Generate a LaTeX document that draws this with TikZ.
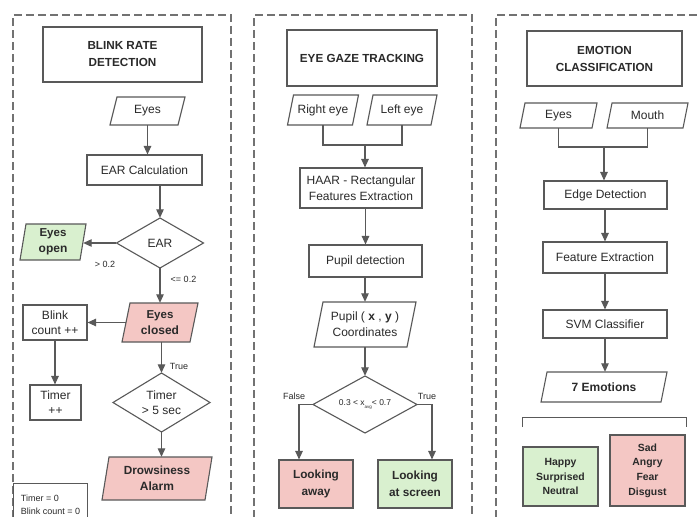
\documentclass[tikz,border=0pt]{standalone}
\usepackage{fontspec}
\setmainfont{Liberation Sans}
\usetikzlibrary{arrows.meta,calc}
\definecolor{linec}{HTML}{595959}
\definecolor{txtc}{HTML}{2A2A2A}
\definecolor{okgreen}{HTML}{D9F0CF}
\definecolor{badpink}{HTML}{F4C7C4}
\tikzset{
 shapeline/.style={draw=linec, line width=1.1pt},
 plain/.style={inner sep=0pt, align=center, text=txtc, font=\fontsize{12}{16}\selectfont},
 box/.style={plain, shapeline, fill=white},
 conn/.style={draw=linec, line width=1.1pt},
 arr/.style={conn, -{Triangle[length=8.5pt,width=7.5pt]}},
 panel/.style={draw=linec!85, line width=1.1pt, dash pattern=on 8pt off 4pt},
 lab/.style={text=txtc, font=\fontsize{9}{11}\selectfont, inner sep=0pt},
 ttl/.style={box, font=\bfseries\fontsize{11.7}{17}\selectfont},
 boldtxt/.style={font=\bfseries\fontsize{11.8}{16.5}\selectfont},
 smallbold/.style={font=\bfseries\fontsize{10.4}{14.6}\selectfont}
}
% parallelogram: name, cx, cy, w, h, slant, fill, text
\newcommand\parabox[8]{%
 \filldraw[shapeline, fill=#7] ({#2-#4/2+#6},{#3-#5/2}) -- ({#2+#4/2+#6},{#3-#5/2})
   -- ({#2+#4/2-#6},{#3+#5/2}) -- ({#2-#4/2-#6},{#3+#5/2}) -- cycle;
 \node[plain, minimum width=#4pt, minimum height=#5pt] (#1) at (#2,#3) {#8};}
% diamond: name, cx, cy, w, h, text
\newcommand\diabox[6]{%
 \filldraw[shapeline, fill=white] ({#2},{#3-#5/2}) -- ({#2+#4/2},{#3})
   -- ({#2},{#3+#5/2}) -- ({#2-#4/2},{#3}) -- cycle;
 \node[plain, minimum width=#4pt, minimum height=#5pt] (#1) at (#2,#3) {#6};}
\begin{document}
\begin{tikzpicture}[x=1pt,y=-1pt]
\useasboundingbox (0,0) rectangle (700,516);
\clip (0,0) rectangle (700,516);
\fill[white] (0,0) rectangle (700,516);
% panels
\draw[panel] (13,530) -- (13,15) -- (231,15) -- (231,530);
\draw[panel] (254,530) -- (254,15) -- (472,15) -- (472,530);
\draw[panel] (496,530) -- (496,15) -- (710,15);

% ---------- left: blink rate ----------
\node[ttl, minimum width=159pt, minimum height=55pt] (t1) at (122.5,54.5) {BLINK RATE\\DETECTION};
\parabox{eyes1}{147.5}{111}{68}{28}{3.5}{white}{Eyes}
\node[box, minimum width=115pt, minimum height=30pt] (ear) at (144.5,170) {EAR Calculation};
\diabox{eard}{160}{243}{87}{50}{EAR}
\parabox{open}{53}{242}{60}{36}{3}{okgreen}{\bfseries\fontsize{11.5}{14}\selectfont Eyes\\\bfseries open}
\parabox{closed}{160}{322.5}{68}{39}{4}{badpink}{\bfseries\fontsize{11.5}{15}\selectfont Eyes\\\bfseries closed}
\node[box, minimum width=64pt, minimum height=35pt] (blink) at (55,322.5) {Blink\\[-1.5pt]count ++};
\node[box, minimum width=51pt, minimum height=35pt] (tpp) at (55.5,402.5) {Timer\\[-1.5pt]++};
\diabox{timerd}{161.5}{402.5}{97}{59}{Timer\\[-1.5pt]> 5 sec}
\parabox{alarm}{157}{478.5}{103}{43}{3.5}{badpink}{\bfseries\fontsize{11.8}{16.5}\selectfont Drowsiness\\\bfseries Alarm}
\node[box, anchor=north west, minimum width=74pt, minimum height=42pt, align=left,
  font=\fontsize{9}{12.5}\selectfont] (init) at (13,483) {Timer = 0\\Blink count = 0};

\draw[arr] (eyes1.south) -- (eyes1.south |- ear.north);
\draw[arr] (eard.north |- ear.south) -- (eard.north);
\draw[arr] (eard.west) -- (eard.west -| open.east);
\draw[arr] (eard.south) -- (eard.south |- closed.north);
\draw[arr] (closed.west) -- (closed.west -| blink.east);
\draw[arr] (blink.south) -- (blink.south |- tpp.north);
\draw[arr] (closed.south -| timerd.north) -- (timerd.north);
\draw[arr] (timerd.south) -- (timerd.south |- alarm.north);
\node[lab] (lgt) at (105,264) {> 0.2};
\node[lab] (lle) at (183.5,279.5) {<= 0.2};
\node[lab] (ltrue1) at (179,366) {True};

% ---------- middle: eye gaze ----------
\node[ttl, minimum width=150pt, minimum height=56pt] (t2) at (362,58) {EYE GAZE TRACKING};
\parabox{reye}{323}{110}{65}{30}{3}{white}{Right eye}
\parabox{leye}{402}{110}{64}{30}{3}{white}{Left eye}
\coordinate (j2) at (365,145);
\node[box, minimum width=122pt, minimum height=40pt] (haar) at (361,188) {HAAR - Rectangular\\Features Extraction};
\node[box, minimum width=113pt, minimum height=32pt] (pupil) at (365.5,261) {Pupil detection};
\parabox{pxy}{365}{324.5}{93}{45}{4.5}{white}{Pupil ( \textbf{x} , \textbf{y} )\\Coordinates}
\diabox{gd}{365}{404.5}{104}{57}{\fontsize{8.5}{10}\selectfont 0.3 < x\raisebox{-3pt}{\fontsize{4.5}{5}\selectfont avg}< 0.7}
\node[box, boldtxt, fill=badpink, minimum width=74pt, minimum height=48pt] (away) at (316,484) {Looking\\away};
\node[box, boldtxt, fill=okgreen, minimum width=74pt, minimum height=48pt] (screen) at (415,484) {Looking\\at screen};
\coordinate (fa) at (299,404.5);
\coordinate (ta) at (432,404.5);

\draw[conn] (reye.south) |- (j2) -| (leye.south);
\draw[arr] (j2) -- (j2 |- haar.north);
\draw[arr] (pupil.north |- haar.south) -- (pupil.north);
\draw[arr] (pxy.north |- pupil.south) -- (pxy.north);
\draw[arr] (pxy.south) -- (gd.north);
\draw[arr] (gd.west) -- (fa) -- (fa |- away.north);
\draw[arr] (gd.east) -- (ta) -- (ta |- screen.north);
\node[lab] (lfalse) at (294,396) {False};
\node[lab] (ltrue2) at (427,396) {True};

% ---------- right: emotion ----------
\node[ttl, minimum width=155pt, minimum height=55pt] (t3) at (604.5,58.5) {EMOTION\\CLASSIFICATION};
\parabox{eyes3}{558.5}{115.5}{72}{25}{2.5}{white}{Eyes}
\parabox{mouth}{647.5}{115.5}{76}{25}{2.5}{white}{Mouth}
\coordinate (j3) at (604,147);
\node[box, minimum width=123pt, minimum height=28pt] (edge) at (605.5,195) {Edge Detection};
\node[box, minimum width=124pt, minimum height=31pt] (feat) at (605,257.5) {Feature Extraction};
\node[box, minimum width=124pt, minimum height=28pt] (svm) at (605,324) {SVM Classifier};
\parabox{emo}{604}{387}{120}{30}{3}{white}{\bfseries 7 Emotions}
\coordinate (b1) at (522,427);
\coordinate (b2) at (522,417);
\coordinate (b3) at (686,417);
\coordinate (b4) at (686,427);
\node[box, smallbold, fill=okgreen, minimum width=75pt, minimum height=59pt] (happy) at (560.5,476.5) {Happy\\Surprised\\Neutral};
\node[box, smallbold, fill=badpink, minimum width=75pt, minimum height=71pt] (sad) at (647.5,470.5) {Sad\\Angry\\Fear\\Disgust};

\draw[conn] (eyes3.south) |- (j3) -| (mouth.south);
\draw[arr] (j3) -- (j3 |- edge.north);
\draw[arr] (feat.north |- edge.south) -- (feat.north);
\draw[arr] (feat.south) -- (feat.south |- svm.north);
\draw[arr] (svm.south) -- (svm.south |- emo.north);
\draw[conn, line width=1pt] (b1) -- (b2) -- (b3) -- (b4);
\end{tikzpicture}
\end{document}
